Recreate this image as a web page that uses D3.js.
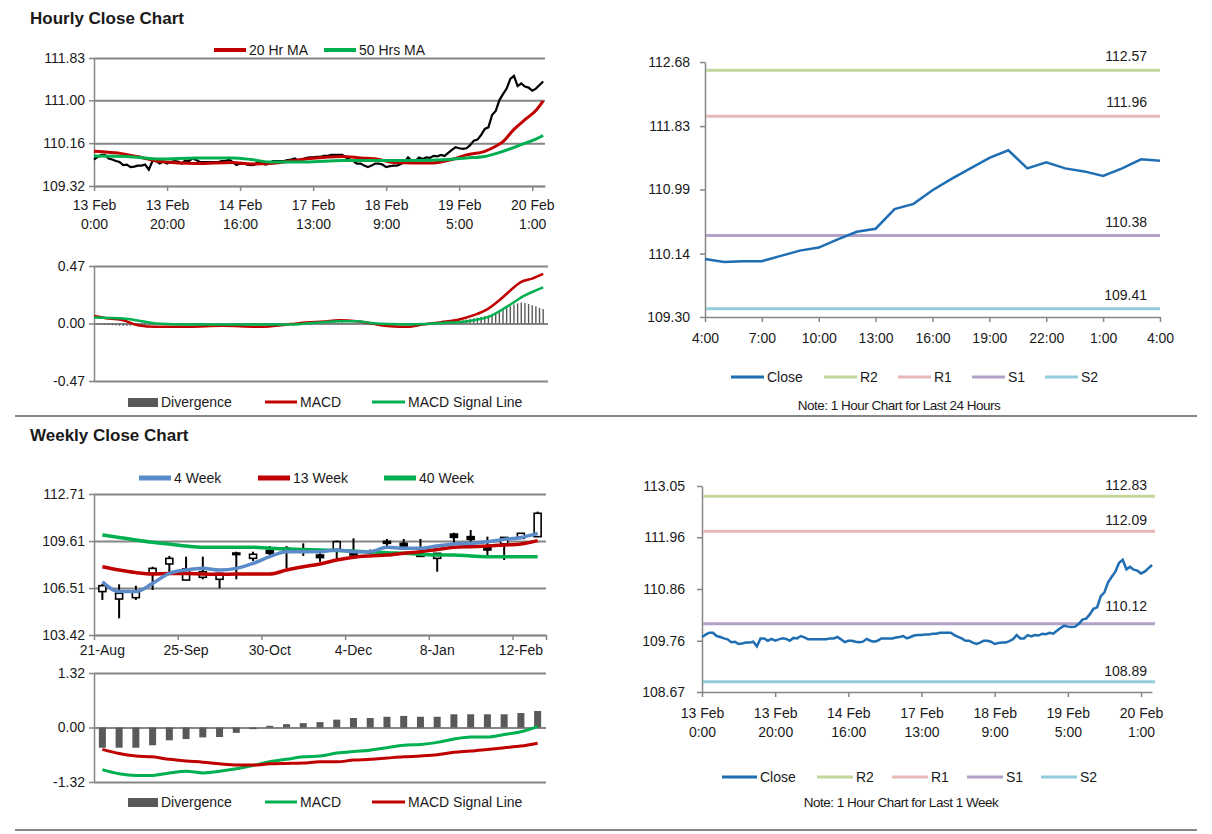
<!DOCTYPE html>
<html>
<head>
<meta charset="utf-8">
<script src="https://cdn.jsdelivr.net/npm/d3@7"></script>
<style>
body { margin: 0; background: #fff; }
svg text { font-family: Arial, "Liberation Sans", sans-serif; fill: #1a1a1a; }
</style>
</head>
<body>
<svg id="chart" width="1212" height="834"></svg>
<script>
// ---- data ----
var hourTicks = [0, 20, 40, 60, 80, 100, 120];
var hourTickLabels = [["13 Feb", "0:00"], ["13 Feb", "20:00"], ["14 Feb", "16:00"], ["17 Feb", "13:00"],
    ["18 Feb", "9:00"], ["19 Feb", "5:00"], ["20 Feb", "1:00"]];

// hourly close, 13 Feb 0:00 -> 20 Feb 3:00
var hourClose = [
    109.84, 109.89, 109.93, 109.93, 109.86, 109.84, 109.81, 109.79, 109.73, 109.74,
    109.69, 109.70, 109.72, 109.72, 109.74, 109.64, 109.81, 109.81, 109.76, 109.80,
    109.76, 109.79, 109.81, 109.80, 109.76, 109.82, 109.81, 109.86, 109.83, 109.79,
    109.79, 109.79, 109.79, 109.79, 109.79, 109.81, 109.81, 109.84, 109.79, 109.73,
    109.76, 109.76, 109.74, 109.73, 109.74, 109.80, 109.76, 109.74, 109.76, 109.81,
    109.81, 109.81, 109.81, 109.83, 109.84, 109.86, 109.81, 109.84, 109.87, 109.88,
    109.88, 109.89, 109.89, 109.91, 109.91, 109.93, 109.93, 109.93, 109.93, 109.88,
    109.84, 109.81, 109.76, 109.76, 109.72, 109.69, 109.72, 109.76, 109.76, 109.74,
    109.69, 109.71, 109.72, 109.72, 109.75, 109.79, 109.88, 109.81, 109.81, 109.88,
    109.85, 109.88, 109.87, 109.91, 109.90, 109.93, 109.91, 109.97, 110.03, 110.08,
    110.06, 110.05, 110.06, 110.12, 110.21, 110.23, 110.32, 110.44, 110.47, 110.71,
    110.79, 111.00, 111.12, 111.23, 111.42, 111.48, 111.28, 111.33, 111.27, 111.25,
    111.19, 111.23, 111.30, 111.37];

var ma20Hours = [0, 8, 13, 18, 28, 38, 43, 48, 58, 68, 73, 78, 82, 92, 98, 102, 107, 110, 112, 115, 118, 121, 123];
var ma20 = [110.00, 109.95, 109.88, 109.80, 109.76, 109.78, 109.75, 109.76, 109.85, 109.90, 109.87, 109.84,
    109.78, 109.77, 109.84, 109.93, 110.00, 110.10, 110.19, 110.43, 110.62, 110.80, 110.99];
var ma50Hours = [0, 9, 18, 28, 38, 43, 48, 58, 68, 78, 88, 97, 102, 107, 112, 117, 121, 123];
var ma50 = [109.91, 109.90, 109.85, 109.87, 109.87, 109.84, 109.79, 109.79, 109.82, 109.82, 109.82,
    109.84, 109.87, 109.90, 110.00, 110.13, 110.24, 110.31];

var macdHours = [0, 4, 8, 12, 17, 26, 35, 45, 54, 58, 63, 67, 72, 76, 81, 86, 90, 95, 100, 104, 108, 111, 114, 117, 120, 123];
var macdHourly = [0.062, 0.041, 0.027, -0.014, -0.027, -0.027, -0.019, -0.027, -0.005, 0.008, 0.016, 0.027,
    0.019, 0.000, -0.022, -0.027, -0.008, 0.011, 0.033, 0.068, 0.122, 0.190, 0.270, 0.340, 0.367, 0.405];
var signalHours = [0, 8, 13, 17, 26, 35, 45, 54, 58, 63, 67, 72, 76, 81, 86, 90, 95, 100, 104, 108, 113, 118, 121, 123];
var signalHourly = [0.049, 0.041, 0.019, 0.000, -0.008, -0.008, -0.008, -0.008, 0.000, 0.011, 0.019, 0.019,
    0.005, -0.005, -0.008, -0.005, 0.005, 0.011, 0.027, 0.054, 0.136, 0.230, 0.270, 0.295];
var divHourly = [
    -0.004, -0.005, -0.007, -0.009, -0.012, -0.014, -0.016, -0.018, -0.019, -0.019,
    -0.018, -0.016, -0.014, -0.012, -0.010, -0.008, -0.006, -0.005, -0.004, -0.003,
    -0.003, -0.002, -0.002, -0.003, -0.004, -0.003, -0.002, -0.001, 0.000, 0.001,
    0.001, 0.000, -0.001, -0.002, -0.003, -0.002, -0.001, 0.000, 0.001, 0.001,
    0.000, -0.001, -0.002, -0.003, -0.003, -0.002, -0.001, 0.000, 0.001, 0.002,
    0.002, 0.003, 0.003, 0.004, 0.004, 0.005, 0.005, 0.006, 0.006, 0.007,
    0.007, 0.007, 0.006, 0.006, 0.007, 0.008, 0.008, 0.008, 0.007, 0.006,
    0.005, 0.004, 0.002, 0.000, -0.003, -0.006, -0.009, -0.012, -0.014, -0.016,
    -0.017, -0.018, -0.018, -0.017, -0.016, -0.014, -0.012, -0.010, -0.008, -0.005,
    -0.003, 0.000, 0.002, 0.004, 0.006, 0.008, 0.010, 0.013, 0.016, 0.020,
    0.024, 0.028, 0.033, 0.038, 0.043, 0.049, 0.055, 0.062, 0.068, 0.075,
    0.085, 0.097, 0.110, 0.125, 0.140, 0.155, 0.165, 0.172, 0.168, 0.160,
    0.150, 0.140, 0.128, 0.118];

// last 24 hours, 19 Feb 4:00 -> 20 Feb 4:00
var dayLabels = ["4:00", "5:00", "6:00", "7:00", "8:00", "9:00", "10:00", "11:00", "12:00", "13:00", "14:00",
    "15:00", "16:00", "17:00", "18:00", "19:00", "20:00", "21:00", "22:00", "23:00", "0:00", "1:00", "2:00", "3:00", "4:00"];
var dayClose = [110.07, 110.03, 110.04, 110.04, 110.11, 110.18, 110.22, 110.33, 110.43, 110.47, 110.73,
    110.80, 110.98, 111.13, 111.27, 111.41, 111.51, 111.27, 111.35, 111.27, 111.23, 111.17, 111.27, 111.39, 111.37];

var levelNames = ["R2", "R1", "S1", "S2"];
var levels24 = [112.57, 111.96, 110.38, 109.41];
var levelsWeek = [112.83, 112.09, 110.12, 108.89];

// weekly candles
var weekLabels = ["21-Aug", "28-Aug", "4-Sep", "11-Sep", "18-Sep", "25-Sep", "2-Oct", "9-Oct", "16-Oct", "23-Oct",
    "30-Oct", "6-Nov", "13-Nov", "20-Nov", "27-Nov", "4-Dec", "11-Dec", "18-Dec", "25-Dec", "1-Jan",
    "8-Jan", "15-Jan", "22-Jan", "29-Jan", "5-Feb", "12-Feb", "19-Feb"];
var wkOpen = [106.28, 105.79, 105.88, 107.48, 108.10, 107.04, 107.22, 107.09, 108.82, 108.47, 109.00, 109.13, 109.00,
    108.69, 109.06, 108.84, 108.95, 109.59, 109.46, 108.80, 108.47, 110.07, 109.90, 109.24, 109.42, 109.79, 109.90];
var wkHigh = [106.78, 106.76, 106.67, 107.92, 108.63, 108.58, 108.58, 107.50, 108.91, 108.91, 109.28, 109.28, 109.46,
    108.80, 109.64, 109.79, 109.05, 109.75, 109.75, 109.75, 108.80, 110.16, 110.34, 109.90, 109.85, 110.12, 111.55];
var wkLow = [105.73, 104.52, 105.73, 106.39, 107.48, 107.04, 107.09, 106.50, 107.09, 108.30, 108.69, 107.81, 108.63,
    108.25, 108.41, 108.58, 108.75, 109.20, 109.13, 108.58, 107.59, 109.46, 109.50, 108.69, 108.36, 109.79, 109.90];
var wkClose = [106.67, 106.17, 106.28, 107.81, 108.47, 107.77, 107.59, 107.48, 108.72, 108.74, 108.80, 109.10, 108.96,
    108.52, 109.57, 108.69, 108.85, 109.46, 109.28, 108.60, 108.80, 109.85, 109.72, 109.02, 109.85, 110.12, 111.44];
var ma4Week = [106.93, 106.28, 106.28, 106.82, 107.48, 107.70, 107.81, 107.70, 107.81, 108.14, 108.58, 108.91, 108.91,
    108.91, 109.02, 108.91, 108.91, 109.20, 109.13, 109.13, 109.28, 109.42, 109.46, 109.57, 109.72, 109.85, 110.12];
var ma13Week = [107.92, 107.70, 107.53, 107.44, 107.48, 107.48, 107.44, 107.42, 107.44, 107.44, 107.44, 107.70, 107.92,
    108.10, 108.36, 108.54, 108.63, 108.69, 108.80, 108.91, 109.06, 109.20, 109.24, 109.28, 109.35, 109.42, 109.64];
var ma40Week = [110.01, 109.85, 109.68, 109.53, 109.42, 109.28, 109.20, 109.20, 109.20, 109.20, 109.13, 109.09, 109.06,
    109.02, 108.98, 108.95, 108.91, 108.84, 108.80, 108.74, 108.69, 108.69, 108.63, 108.58, 108.58, 108.58, 108.58];
var wkDivergence = [-0.49, -0.49, -0.49, -0.43, -0.31, -0.28, -0.24, -0.23, -0.13, -0.04, 0.04, 0.08, 0.105, 0.13,
    0.19, 0.23, 0.23, 0.26, 0.28, 0.26, 0.26, 0.32, 0.32, 0.32, 0.32, 0.35, 0.40];
var wkMacd = [-1.02, -1.12, -1.16, -1.16, -1.10, -1.06, -1.10, -1.06, -1.00, -0.92, -0.83, -0.77, -0.71, -0.69,
    -0.62, -0.58, -0.55, -0.49, -0.43, -0.41, -0.36, -0.28, -0.23, -0.23, -0.17, -0.105, 0.02];
var wkSignal = [-0.53, -0.63, -0.69, -0.71, -0.77, -0.81, -0.84, -0.88, -0.91, -0.91, -0.88, -0.87, -0.86, -0.83,
    -0.83, -0.79, -0.77, -0.74, -0.71, -0.69, -0.66, -0.60, -0.57, -0.53, -0.49, -0.45, -0.38];

// ---- drawing ----
var svg = d3.select("#chart");
var GRID = "#868686", RED = "#c00000", GREEN = "#00b050", BLUE = "#1f6db3", WBLUE = "#5b8bc8", DIV = "#595959";
var levelColors = ["#c3d69b", "#e6b9b8", "#b3a2c7", "#93cddd"];
var fmt2 = function (d) { return d.toFixed(2); };   // plain hyphen minus like the original

svg.append("rect").attr("width", 1212).attr("height", 834).attr("fill", "#fff");

function styleAxis(g) {
    g.attr("font-family", null).attr("font-size", null);
    g.selectAll("path.domain, line").attr("stroke", GRID).attr("stroke-width", 1.5);
    g.selectAll("text").style("font-size", "14px").attr("fill", "#1a1a1a");
}

// left axis + horizontal gridlines
function yAxis(scale, ticks, x0, x1, grid, pad) {
    if (grid) {
        svg.append("g").attr("transform", `translate(${x0},0)`)
            .call(d3.axisLeft(scale).tickValues(ticks).tickSize(-(x1 - x0)).tickFormat(""))
            .call(function (g) {
                g.select(".domain").remove();
                g.selectAll("line").attr("stroke", GRID).attr("stroke-width", 2);
            });
    }
    svg.append("g").attr("transform", `translate(${x0},0)`)
        .call(d3.axisLeft(scale).tickValues(ticks).tickSize(5).tickPadding(pad).tickSizeOuter(0).tickFormat(fmt2))
        .call(styleAxis);
}

function twoLineX(scale, y, pad) {
    var g = svg.append("g").attr("transform", `translate(0,${y})`)
        .call(d3.axisBottom(scale).tickValues(hourTicks).tickSize(5).tickPadding(pad).tickSizeOuter(0).tickFormat(""))
        .call(styleAxis);
    g.selectAll(".tick text").each(function (d, i) {
        var t = d3.select(this);
        t.append("tspan").attr("x", 0).text(hourTickLabels[i][0]);
        t.append("tspan").attr("x", 0).attr("dy", "1.33em").text(hourTickLabels[i][1]);
    });
}

function legendLine(x, y, color, label, w, sw) {
    svg.append("line").attr("x1", x).attr("x2", x + w).attr("y1", y).attr("y2", y)
        .attr("stroke", color).attr("stroke-width", sw);
    svg.append("text").attr("x", x + w + 3).attr("y", y + 5).style("font-size", "14px").text(label);
}
function legendBox(x, y, label) {
    svg.append("rect").attr("x", x).attr("y", y - 4).attr("width", 30).attr("height", 9).attr("fill", DIV);
    svg.append("text").attr("x", x + 33).attr("y", y + 5).style("font-size", "14px").text(label);
}
function title(t, y) {
    svg.append("text").attr("x", 30).attr("y", y).style("font-size", "17px").style("font-weight", "bold")
        .attr("fill", "#000").text(t);
}
function note(t, x, y) {
    svg.append("text").attr("x", x).attr("y", y).attr("text-anchor", "middle").style("font-size", "13.5px")
        .style("letter-spacing", "-0.5px").text(t);
}

// separators
[416, 830].forEach(function (y) {
    svg.append("line").attr("x1", 15).attr("x2", 1197).attr("y1", y).attr("y2", y)
        .attr("stroke", GRID).attr("stroke-width", 2);
});

// ================= Hourly close chart =================
title("Hourly Close Chart", 24);
var xH = d3.scaleLinear().domain([0, 123.5]).range([94, 545]);
var yH = d3.scaleLinear().domain([109.32, 111.83]).range([186, 58]);
yAxis(yH, [109.32, 110.16, 111.00, 111.83], 94, 545, true, 4);
twoLineX(xH, 186, 9);

var hLine = d3.line().x(function (d, i) { return xH(i); }).y(function (d) { return yH(d); });
svg.append("path").datum(hourClose).attr("d", hLine).attr("fill", "none").attr("stroke", "#000").attr("stroke-width", 2.2);
svg.append("path").datum(ma20).attr("fill", "none").attr("stroke", RED).attr("stroke-width", 3)
    .attr("d", d3.line().curve(d3.curveMonotoneX).x(function (d, i) { return xH(ma20Hours[i]); }).y(function (d) { return yH(d); }));
svg.append("path").datum(ma50).attr("fill", "none").attr("stroke", GREEN).attr("stroke-width", 3)
    .attr("d", d3.line().curve(d3.curveMonotoneX).x(function (d, i) { return xH(ma50Hours[i]); }).y(function (d) { return yH(d); }));
legendLine(214, 50, RED, "20 Hr MA", 32, 4);
legendLine(324, 50, GREEN, "50 Hrs MA", 32, 4);

// hourly MACD
var yHm = d3.scaleLinear().domain([-0.47, 0.47]).range([381, 266]);
yAxis(yHm, [-0.47, 0, 0.47], 94, 548, true, 4);
svg.append("g").selectAll("rect").data(divHourly).enter().append("rect")
    .attr("x", function (d, i) { return xH(i) - 0.7; })
    .attr("y", function (d) { return Math.min(yHm(d), yHm(0)); })
    .attr("width", 1.4)
    .attr("height", function (d) { return Math.abs(yHm(d) - yHm(0)); })
    .attr("fill", DIV);
svg.append("path").datum(macdHourly).attr("fill", "none").attr("stroke", RED).attr("stroke-width", 2.5)
    .attr("d", d3.line().curve(d3.curveMonotoneX).x(function (d, i) { return xH(macdHours[i]); }).y(function (d) { return yHm(d); }));
svg.append("path").datum(signalHourly).attr("fill", "none").attr("stroke", GREEN).attr("stroke-width", 2.5)
    .attr("d", d3.line().curve(d3.curveMonotoneX).x(function (d, i) { return xH(signalHours[i]); }).y(function (d) { return yHm(d); }));
legendBox(128, 402, "Divergence");
legendLine(265, 402, RED, "MACD", 32, 3);
legendLine(372, 402, GREEN, "MACD Signal Line", 33, 3);

// ================= last 24 hours =================
var xD = d3.scaleLinear().domain([0, 24]).range([705, 1160]);
var yD = d3.scaleLinear().domain([109.30, 112.68]).range([317, 62]);
yAxis(yD, [109.30, 110.14, 110.99, 111.83, 112.68], 705, 1160, false, 10);
svg.append("g").attr("transform", "translate(0,317)")
    .call(d3.axisBottom(xD).tickValues(d3.range(0, 25, 3)).tickSize(5).tickPadding(11).tickSizeOuter(0)
        .tickFormat(function (d) { return dayLabels[d]; }))
    .call(styleAxis);
levels24.forEach(function (v, i) {
    svg.append("line").attr("x1", xD(0) + 1).attr("x2", xD(24)).attr("y1", yD(v)).attr("y2", yD(v))
        .attr("stroke", levelColors[i]).attr("stroke-width", 3);
    svg.append("text").attr("x", 1147).attr("y", yD(v) - 9).attr("text-anchor", "end")
        .style("font-size", "14px").text(v.toFixed(2));
});
svg.append("path").datum(dayClose).attr("fill", "none").attr("stroke", BLUE).attr("stroke-width", 2.5)
    .attr("d", d3.line().x(function (d, i) { return xD(i); }).y(function (d) { return yD(d); }));
legendLine(731, 377, BLUE, "Close", 33, 3);
levelNames.forEach(function (n, i) { legendLine([824, 898, 972, 1045][i], 377, levelColors[i], n, 33, 3); });
note("Note: 1 Hour Chart for Last 24 Hours", 899, 410);

// ================= Weekly close chart =================
title("Weekly Close Chart", 441);
var xWk = d3.scaleBand().domain(d3.range(weekLabels.length)).range([94, 546]);
var xWkEdge = d3.scaleLinear().domain([0, weekLabels.length]).range([94, 546]);
var bw = xWk.bandwidth();
function cx(i) { return xWk(i) + bw / 2; }
var yWk = d3.scaleLinear().domain([103.42, 112.71]).range([635, 494]);
yAxis(yWk, [103.42, 106.51, 109.61, 112.71], 94, 546, true, 4);
svg.append("g").attr("transform", "translate(0,635)")
    .call(d3.axisBottom(xWkEdge).tickValues([5, 10, 15, 20, 25]).tickSize(5).tickFormat(""))
    .call(styleAxis);
svg.append("g").attr("transform", "translate(0,635)")
    .call(d3.axisBottom(xWk).tickValues([0, 5, 10, 15, 20, 25]).tickSize(0).tickPadding(10)
        .tickFormat(function (i) { return weekLabels[i]; }))
    .call(styleAxis)
    .call(function (g) { g.select(".domain").remove(); });

// candles
var candles = svg.append("g");
weekLabels.forEach(function (w, i) {
    var up = wkClose[i] >= wkOpen[i];
    candles.append("line").attr("x1", cx(i)).attr("x2", cx(i)).attr("y1", yWk(wkHigh[i])).attr("y2", yWk(wkLow[i]))
        .attr("stroke", "#000").attr("stroke-width", 2);
    var top = yWk(Math.max(wkOpen[i], wkClose[i])), bot = yWk(Math.min(wkOpen[i], wkClose[i]));
    candles.append("rect").attr("x", cx(i) - 3.5).attr("y", top).attr("width", 7).attr("height", Math.max(bot - top, 1.5))
        .attr("fill", up ? "#fff" : "#000").attr("stroke", "#000").attr("stroke-width", 1.6);
});
var wkLine = d3.line().curve(d3.curveMonotoneX).x(function (d, i) { return cx(i); }).y(function (d) { return yWk(d); });
svg.append("path").datum(ma40Week).attr("d", wkLine).attr("fill", "none").attr("stroke", GREEN).attr("stroke-width", 3.5);
svg.append("path").datum(ma13Week).attr("d", wkLine).attr("fill", "none").attr("stroke", RED).attr("stroke-width", 3.5);
svg.append("path").datum(ma4Week).attr("d", wkLine).attr("fill", "none").attr("stroke", WBLUE).attr("stroke-width", 3.5);
legendLine(139, 478, WBLUE, "4 Week", 32, 5);
legendLine(258, 478, RED, "13 Week", 32, 5);
legendLine(384, 478, GREEN, "40 Week", 32, 5);

// weekly MACD
var yWm = d3.scaleLinear().domain([-1.32, 1.32]).range([782, 673]);
yAxis(yWm, [-1.32, 0, 1.32], 94, 546, true, 4);
svg.append("g").selectAll("rect").data(wkDivergence).enter().append("rect")
    .attr("x", function (d, i) { return cx(i) - 3.5; })
    .attr("y", function (d) { return Math.min(yWm(d), yWm(0)); })
    .attr("width", 7)
    .attr("height", function (d) { return Math.abs(yWm(d) - yWm(0)); })
    .attr("fill", DIV);
var wmLine = d3.line().curve(d3.curveMonotoneX).x(function (d, i) { return cx(i); }).y(function (d) { return yWm(d); });
svg.append("path").datum(wkMacd).attr("d", wmLine).attr("fill", "none").attr("stroke", GREEN).attr("stroke-width", 3);
svg.append("path").datum(wkSignal).attr("d", wmLine).attr("fill", "none").attr("stroke", RED).attr("stroke-width", 3);
legendBox(128, 802, "Divergence");
legendLine(265, 802, GREEN, "MACD", 32, 3);
legendLine(372, 802, RED, "MACD Signal Line", 33, 3);

// ================= last 1 week =================
var xW1 = d3.scaleLinear().domain([0, 123]).range([702, 1152]);
var yW1 = d3.scaleLinear().domain([108.67, 113.05]).range([692, 486]);
yAxis(yW1, [108.67, 109.76, 110.86, 111.96, 113.05], 702, 1152, false, 12);
twoLineX(xW1, 692, 11);
levelsWeek.forEach(function (v, i) {
    svg.append("line").attr("x1", xW1(0) + 1).attr("x2", 1155).attr("y1", yW1(v)).attr("y2", yW1(v))
        .attr("stroke", levelColors[i]).attr("stroke-width", 3);
    svg.append("text").attr("x", 1147).attr("y", yW1(v) - (i === 2 ? 13 : 6)).attr("text-anchor", "end")
        .style("font-size", "14px").text(v.toFixed(2));
});
svg.append("path").datum(hourClose).attr("fill", "none").attr("stroke", BLUE).attr("stroke-width", 2.5)
    .attr("d", d3.line().x(function (d, i) { return xW1(i); }).y(function (d) { return yW1(d); }));
legendLine(722, 777, BLUE, "Close", 35, 3);
levelNames.forEach(function (n, i) { legendLine([817, 892, 967, 1041][i], 777, levelColors[i], n, 36, 3); });
note("Note: 1 Hour Chart for Last 1 Week", 901, 807);
</script>
</body>
</html>
